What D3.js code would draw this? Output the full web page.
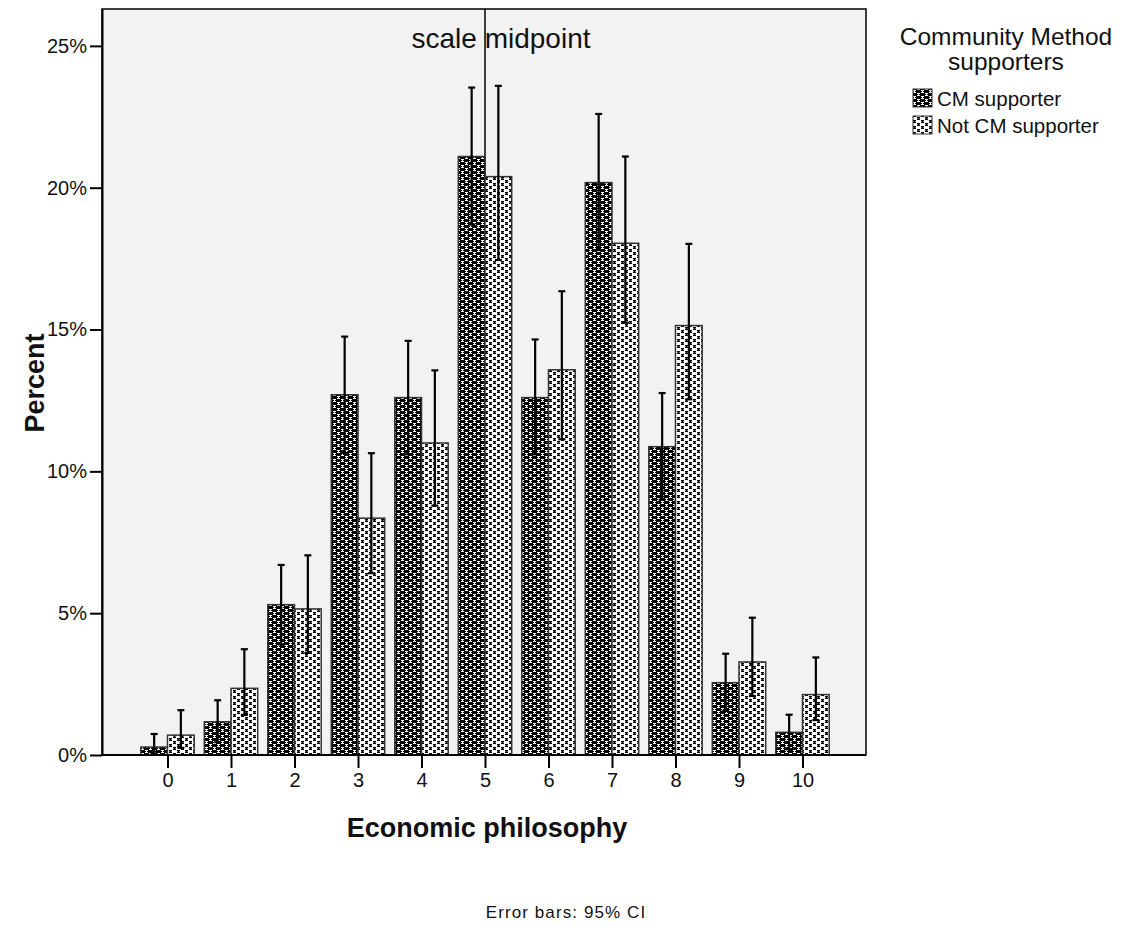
<!DOCTYPE html>
<html>
<head>
<meta charset="utf-8">
<script src="https://cdn.jsdelivr.net/npm/d3@7"></script>
<style>
  html, body { margin: 0; padding: 0; background: #fff; }
  svg { display: block; font-family: "Liberation Sans", Arial, sans-serif; }
</style>
</head>
<body>
<svg id="chart" width="1124" height="933"></svg>
<script>
// ---- data ----
const categories = [0, 1, 2, 3, 4, 5, 6, 7, 8, 9, 10];
const seriesNames = ["CM supporter", "Not CM supporter"];
const cmValues    = [0.28, 1.17, 5.3, 12.7, 12.6, 21.1, 12.6, 20.18, 10.87, 2.55, 0.8];
const cmLower     = [0.05, 0.45, 3.9, 10.65, 10.6, 18.7, 10.6, 17.8, 9.0, 1.55, 0.2];
const cmUpper     = [0.74, 1.93, 6.7, 14.75, 14.6, 23.53, 14.65, 22.6, 12.76, 3.57, 1.42];
const notValues   = [0.7, 2.35, 5.15, 8.35, 11.0, 20.39, 13.58, 18.04, 15.14, 3.28, 2.13];
const notLower    = [0.25, 1.41, 3.6, 6.41, 8.79, 17.45, 11.13, 15.24, 12.54, 2.08, 1.23];
const notUpper    = [1.58, 3.73, 7.04, 10.64, 13.56, 23.59, 16.35, 21.1, 18.02, 4.84, 3.44];
const yTicks = [0, 5, 10, 15, 20, 25];
const midpoint = 5;

const series = [
  { name: seriesNames[0], values: cmValues, lower: cmLower, upper: cmUpper, pat: "patDark" },
  { name: seriesNames[1], values: notValues, lower: notLower, upper: notUpper, pat: "patLight" }
];

// ---- layout ----
const frame = { left: 102, right: 866, top: 9, bottom: 755 };
const svg = d3.select("#chart");

// patterns
const defs = svg.append("defs");
function makePattern(id, bg, fg, midW) {
  const p = defs.append("pattern").attr("id", id)
    .attr("patternUnits", "userSpaceOnUse").attr("width", 8).attr("height", 6);
  p.append("rect").attr("width", 8).attr("height", 6).attr("fill", bg);
  const marks = [[1, 0], [5, 3]];
  marks.forEach(([mx, my]) => {
    p.append("rect").attr("x", mx).attr("y", my).attr("width", 3).attr("height", 1).attr("fill", fg);
    p.append("rect").attr("x", mx + (midW === 2 ? 0.5 : 1)).attr("y", my + 1).attr("width", midW).attr("height", 1).attr("fill", fg);
    p.append("rect").attr("x", mx).attr("y", (my + 2) % 6).attr("width", 3).attr("height", 1).attr("fill", fg);
  });
}
makePattern("patDark", "#000", "#fff", 1);
makePattern("patLight", "#fff", "#000", 2);

const x = d3.scalePoint().domain(categories).range([104, 866]).padding(1);
const barW = 26.7;
const y = d3.scaleLinear().domain([0, 26.3]).range([frame.bottom, frame.top]);

// plot background
svg.append("rect")
  .attr("x", frame.left).attr("y", frame.top)
  .attr("width", frame.right - frame.left).attr("height", frame.bottom - frame.top)
  .attr("fill", "#f2f2f2");

// midpoint line
svg.append("line")
  .attr("x1", x(midpoint)).attr("x2", x(midpoint))
  .attr("y1", frame.top).attr("y2", frame.bottom)
  .attr("stroke", "#000").attr("stroke-width", 1.5);

// bars
series.forEach((s, si) => {
  svg.append("g").selectAll("rect").data(categories).join("rect")
    .attr("x", (d) => x(d) + (si === 0 ? -barW : 0))
    .attr("y", (d, i) => y(s.values[i]))
    .attr("width", barW)
    .attr("height", (d, i) => y(0) - y(s.values[i]))
    .attr("fill", `url(#${s.pat})`)
    .attr("stroke", "#333").attr("stroke-width", 1.5);
});

// error bars
series.forEach((s, si) => {
  const g = svg.append("g").attr("stroke", "#000").attr("stroke-width", 2.2);
  categories.forEach((d, i) => {
    const cx = x(d) + (si === 0 ? -barW / 2 : barW / 2);
    g.append("line").attr("x1", cx).attr("x2", cx)
      .attr("y1", y(s.lower[i])).attr("y2", y(s.upper[i]));
    [s.lower[i], s.upper[i]].forEach((v) => {
      g.append("line").attr("x1", cx - 3.5).attr("x2", cx + 3.5)
        .attr("y1", y(v)).attr("y2", y(v));
    });
  });
});

// scale midpoint label
svg.append("text")
  .attr("x", x(midpoint) + 16).attr("y", 48)
  .attr("text-anchor", "middle")
  .attr("font-size", 28).attr("fill", "#111")
  .text("scale midpoint");

// frame
svg.append("rect")
  .attr("x", frame.left).attr("y", frame.top)
  .attr("width", frame.right - frame.left).attr("height", frame.bottom - frame.top)
  .attr("fill", "none").attr("stroke", "#000").attr("stroke-width", 1.5);

// y axis
const yAxis = d3.axisLeft(y).tickValues(yTicks).tickFormat((d) => d + "%")
  .tickSizeInner(12).tickSizeOuter(0).tickPadding(3);
const yg = svg.append("g").attr("transform", `translate(${frame.left},0)`).call(yAxis);
yg.select(".domain").attr("stroke", "#000").attr("stroke-width", 2);
yg.selectAll(".tick line").attr("stroke", "#000").attr("stroke-width", 2);
yg.selectAll(".tick text").attr("font-size", 20).attr("fill", "#111")
  .attr("font-family", '"Liberation Sans", Arial, sans-serif');

// x axis
const xAxis = d3.axisBottom(x).tickSizeInner(13).tickSizeOuter(0).tickPadding(5);
const xg = svg.append("g").attr("transform", `translate(0,${frame.bottom})`).call(xAxis);
xg.select(".domain").remove();
xg.append("line").attr("x1", frame.left).attr("x2", frame.right)
  .attr("stroke", "#000").attr("stroke-width", 2);
xg.selectAll(".tick line").attr("stroke", "#000").attr("stroke-width", 2);
xg.selectAll(".tick text").attr("font-size", 20).attr("fill", "#111")
  .attr("font-family", '"Liberation Sans", Arial, sans-serif');

// axis titles
svg.append("text")
  .attr("transform", "translate(44,383) rotate(-90)")
  .attr("text-anchor", "middle").attr("font-weight", "bold").attr("font-size", 27).attr("fill", "#111")
  .text("Percent");
svg.append("text")
  .attr("x", 487).attr("y", 837)
  .attr("text-anchor", "middle").attr("font-weight", "bold").attr("font-size", 27).attr("fill", "#111")
  .text("Economic philosophy");

// footnote
svg.append("text")
  .attr("x", 566).attr("y", 918)
  .attr("text-anchor", "middle").attr("font-size", 17).attr("letter-spacing", 1.1).attr("fill", "#111")
  .text("Error bars: 95% CI");

// legend
const lg = svg.append("g");
lg.append("text").attr("x", 1006).attr("y", 45).attr("text-anchor", "middle")
  .attr("font-size", 24.5).attr("fill", "#111").text("Community Method");
lg.append("text").attr("x", 1006).attr("y", 70).attr("text-anchor", "middle")
  .attr("font-size", 24.5).attr("fill", "#111").text("supporters");
series.forEach((s, i) => {
  const yy = 89 + i * 27;
  lg.append("rect").attr("x", 913).attr("y", yy).attr("width", 19).attr("height", 18)
    .attr("fill", `url(#${s.pat})`).attr("stroke", "#333").attr("stroke-width", 1);
  lg.append("text").attr("x", 937).attr("y", yy + 17).attr("font-size", 20.5)
    .attr("fill", "#111").text(s.name);
});
</script>
</body>
</html>
